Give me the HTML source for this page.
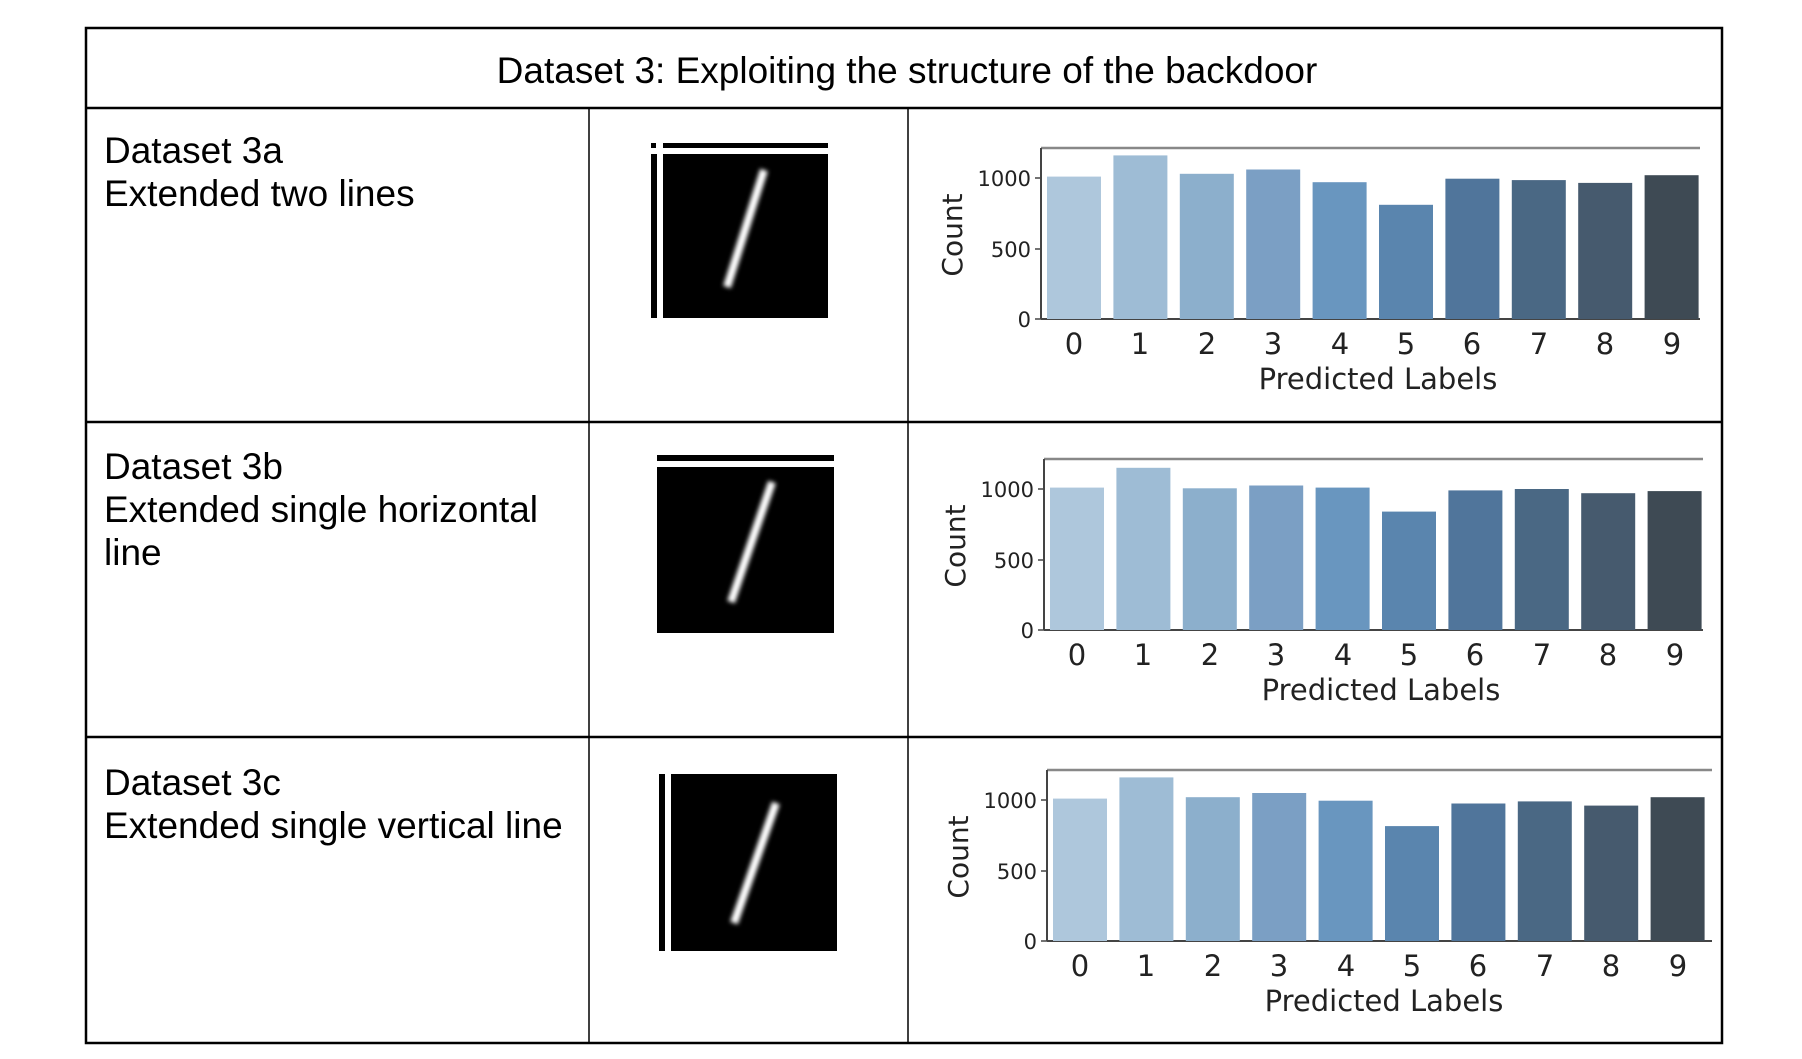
<!DOCTYPE html>
<html><head><meta charset="utf-8"><style>
html,body{margin:0;padding:0;background:#fff;width:1802px;height:1059px;overflow:hidden}
svg{display:block}
.t{font-family:"Liberation Sans",sans-serif;font-size:37px;fill:#000}
.c{font-family:"DejaVu Sans","Liberation Sans",sans-serif;fill:#222}
</style></head><body>
<svg width="1802" height="1059" viewBox="0 0 1802 1059" xmlns="http://www.w3.org/2000/svg">
<defs>
<filter id="bl" x="-50%" y="-20%" width="200%" height="140%"><feGaussianBlur stdDeviation="2"/></filter>
<g id="axes">
  <line x1="1041" y1="148" x2="1700" y2="148" stroke="#888" stroke-width="2.5"/>
  <line x1="1041" y1="148" x2="1041" y2="319" stroke="#444" stroke-width="2"/>
  <line x1="1041" y1="319" x2="1700" y2="319" stroke="#444" stroke-width="2"/>
  <g stroke="#444" stroke-width="1.5">
    <line x1="1035" y1="178" x2="1041" y2="178"/><line x1="1035" y1="249" x2="1041" y2="249"/><line x1="1035" y1="319" x2="1041" y2="319"/>
  </g>
  <g class="c" font-size="21" text-anchor="end">
    <text x="1031" y="186">1000</text><text x="1031" y="257">500</text><text x="1031" y="327">0</text>
  </g>
  <g class="c" font-size="29" text-anchor="middle">
    <text x="1074" y="354">0</text><text x="1140" y="354">1</text><text x="1207" y="354">2</text><text x="1273" y="354">3</text><text x="1340" y="354">4</text><text x="1406" y="354">5</text><text x="1472" y="354">6</text><text x="1539" y="354">7</text><text x="1605" y="354">8</text><text x="1672" y="354">9</text>
    <text x="1378" y="389" font-size="29">Predicted Labels</text>
  </g>
  <text class="c" font-size="28" text-anchor="middle" transform="translate(962,235) rotate(-90)">Count</text>
</g>
</defs>

<g fill="none" stroke="#000" stroke-width="2.5">
<rect x="86" y="28" width="1636" height="1015"/>
<line x1="86" y1="108" x2="1722" y2="108"/>
<line x1="86" y1="422" x2="1722" y2="422"/>
<line x1="86" y1="737" x2="1722" y2="737"/>
<line x1="589" y1="108" x2="589" y2="1043" stroke-width="1.5"/>
<line x1="908" y1="108" x2="908" y2="1043" stroke-width="1.5"/>
</g>
<text class="t" x="907" y="83" text-anchor="middle">Dataset 3: Exploiting the structure of the backdoor</text>
<text class="t" x="104" y="163">Dataset 3a</text>
<text class="t" x="104" y="206">Extended two lines</text>
<text class="t" x="104" y="479">Dataset 3b</text>
<text class="t" x="104" y="522">Extended single horizontal</text>
<text class="t" x="104" y="565">line</text>
<text class="t" x="104" y="795">Dataset 3c</text>
<text class="t" x="104" y="838">Extended single vertical line</text>

<rect x="663" y="154" width="165" height="164" fill="#000"/>
<rect x="663" y="143" width="165" height="5" fill="#000"/>
<rect x="651" y="143" width="5" height="5" fill="#000"/>
<rect x="651" y="154" width="6" height="164" fill="#000"/>
<line x1="764" y1="170" x2="727" y2="287" stroke="#fff" stroke-width="8" filter="url(#bl)"/>

<rect x="657" y="467" width="177" height="166" fill="#000"/>
<rect x="657" y="455" width="177" height="6" fill="#000"/>
<line x1="772" y1="482" x2="731" y2="602" stroke="#fff" stroke-width="8" filter="url(#bl)"/>

<rect x="671" y="774" width="166" height="177" fill="#000"/>
<rect x="659" y="774" width="6" height="177" fill="#000"/>
<line x1="776" y1="803" x2="734" y2="923" stroke="#fff" stroke-width="8" filter="url(#bl)"/>

<g>
<use href="#axes"/>
<rect x="1047" y="176.6" width="54" height="142.4" fill="#aec7dc"/>
<rect x="1113.4" y="155.4" width="54" height="163.6" fill="#9ebcd5"/>
<rect x="1179.8" y="173.8" width="54" height="145.2" fill="#8cafcc"/>
<rect x="1246.2" y="169.5" width="54" height="149.5" fill="#7b9fc4"/>
<rect x="1312.6" y="182.2" width="54" height="136.8" fill="#6996bf"/>
<rect x="1379" y="204.8" width="54" height="114.2" fill="#5a85ae"/>
<rect x="1445.4" y="178.7" width="54" height="140.3" fill="#50759b"/>
<rect x="1511.8" y="180.1" width="54" height="138.9" fill="#4a6884"/>
<rect x="1578.2" y="182.9" width="54" height="136.1" fill="#465a6e"/>
<rect x="1644.6" y="175.2" width="54" height="143.8" fill="#3e4a54"/>
</g>
<g transform="translate(3,311)">
<use href="#axes"/>
<rect x="1047" y="176.6" width="54" height="142.4" fill="#aec7dc"/>
<rect x="1113.4" y="156.8" width="54" height="162.2" fill="#9ebcd5"/>
<rect x="1179.8" y="177.3" width="54" height="141.7" fill="#8cafcc"/>
<rect x="1246.2" y="174.5" width="54" height="144.5" fill="#7b9fc4"/>
<rect x="1312.6" y="176.6" width="54" height="142.4" fill="#6996bf"/>
<rect x="1379" y="200.6" width="54" height="118.4" fill="#5a85ae"/>
<rect x="1445.4" y="179.4" width="54" height="139.6" fill="#50759b"/>
<rect x="1511.8" y="178" width="54" height="141" fill="#4a6884"/>
<rect x="1578.2" y="182.2" width="54" height="136.8" fill="#465a6e"/>
<rect x="1644.6" y="180.1" width="54" height="138.9" fill="#3e4a54"/>
</g>
<g transform="translate(6,622)">
<use href="#axes"/>
<line x1="1700" y1="148" x2="1706" y2="148" stroke="#888" stroke-width="2.5"/>
<line x1="1700" y1="319" x2="1706" y2="319" stroke="#444" stroke-width="2"/>
<rect x="1047" y="176.6" width="54" height="142.4" fill="#aec7dc"/>
<rect x="1113.4" y="155.4" width="54" height="163.6" fill="#9ebcd5"/>
<rect x="1179.8" y="175.2" width="54" height="143.8" fill="#8cafcc"/>
<rect x="1246.2" y="171" width="54" height="148" fill="#7b9fc4"/>
<rect x="1312.6" y="178.7" width="54" height="140.3" fill="#6996bf"/>
<rect x="1379" y="204.1" width="54" height="114.9" fill="#5a85ae"/>
<rect x="1445.4" y="181.5" width="54" height="137.5" fill="#50759b"/>
<rect x="1511.8" y="179.4" width="54" height="139.6" fill="#4a6884"/>
<rect x="1578.2" y="183.6" width="54" height="135.4" fill="#465a6e"/>
<rect x="1644.6" y="175.2" width="54" height="143.8" fill="#3e4a54"/>
</g>
</svg>
</body></html>
